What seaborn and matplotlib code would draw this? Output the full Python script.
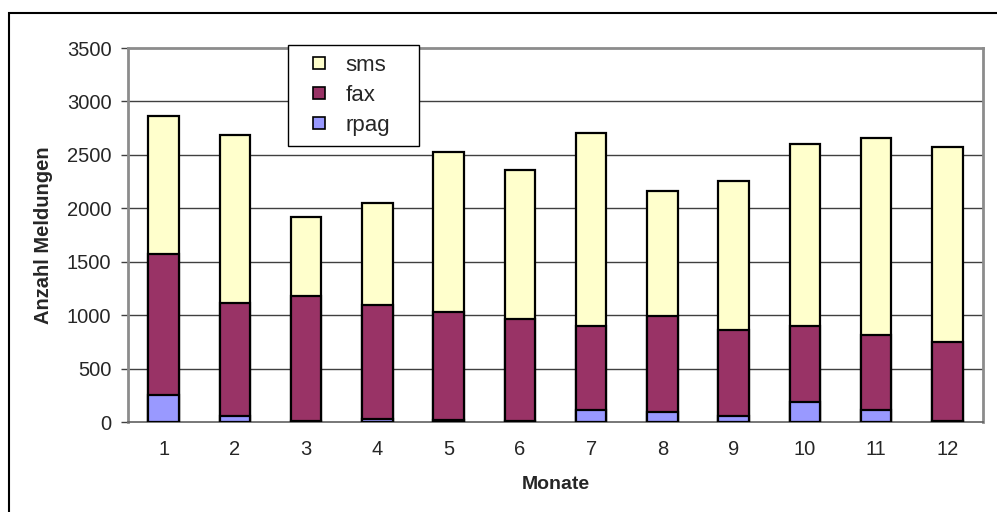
import matplotlib
matplotlib.use("Agg")
import matplotlib.pyplot as plt
from matplotlib.lines import Line2D
from matplotlib.patches import Rectangle
import seaborn as sns
import pandas as pd
import numpy as np

months = ["1", "2", "3", "4", "5", "6", "7", "8", "9", "10", "11", "12"]
rpag = [255, 52, 12, 28, 21, 12, 115, 93, 52, 183, 115, 6]
fax = [1320, 1066, 1171, 1068, 1010, 953, 785, 897, 808, 717, 698, 745]
sms = [1288, 1568, 739, 957, 1500, 1395, 1805, 1174, 1391, 1699, 1848, 1823]

colors = {"sms": "#FFFFCC", "fax": "#993366", "rpag": "#9999FF"}

df = pd.DataFrame({"Monat": months, "rpag": rpag, "fax": fax, "sms": sms})
df["c_rpag"] = df["rpag"]
df["c_fax"] = df["rpag"] + df["fax"]
df["c_sms"] = df["rpag"] + df["fax"] + df["sms"]

sns.set_style("white")
plt.rcParams["font.family"] = ["Liberation Sans", "DejaVu Sans"]

fig = plt.figure(figsize=(9.97, 5.12), dpi=100)
ax = fig.add_axes([128 / 997, 1 - 422 / 512, (983 - 128) / 997, (422 - 48) / 512])

for key in ["c_sms", "c_fax", "c_rpag"]:
    sns.barplot(data=df, x="Monat", y=key, order=months, color=colors[key[2:]],
                width=0.43, edgecolor="black", linewidth=1.6, ax=ax,
                saturation=1, zorder=3)

ax.set_ylim(0, 3500)
ax.set_xlim(-0.5, 11.5)
ax.set_yticks(np.arange(0, 3501, 500))
ax.set_yticklabels([str(v) for v in range(0, 3501, 500)], fontsize=14.5)
ax.set_xticklabels(months, fontsize=14.5)
ax.set_xticks(np.arange(-0.5, 12, 1), minor=True)
ax.tick_params(axis="x", which="major", length=0, pad=13)
ax.tick_params(axis="x", which="minor", length=5, width=1, color="#404040", direction="out")
ax.tick_params(axis="y", which="major", length=5, width=1, color="#404040", pad=7, direction="out", left=True)

for v in range(500, 3001, 500):
    ax.axhline(v, color="#404040", lw=1, zorder=1)

for s in ax.spines.values():
    s.set_color("#8c8c8c")
    s.set_linewidth(2)
ax.spines["bottom"].set_color("#606060")
ax.spines["bottom"].set_linewidth(1.2)

ax.set_xlabel("Monate", fontsize=14, fontweight="bold", labelpad=12)
ax.set_ylabel("Anzahl Meldungen", fontsize=14.5, fontweight="bold", labelpad=10)

handles = [Line2D([], [], marker="s", linestyle="none", markersize=8,
                  markerfacecolor=colors[k], markeredgecolor="black", markeredgewidth=1.2)
           for k in ["sms", "fax", "rpag"]]
leg = fig.legend(handles, ["sms", "fax", "rpag"], loc="upper left",
                 bbox_to_anchor=(288 / 997, 1 - 142 / 512, 131 / 997, 97 / 512),
                 mode="expand", fontsize=16,
                 frameon=True, fancybox=False, edgecolor="black",
                 borderpad=0.45, labelspacing=0.4, handlelength=1.9,
                 handletextpad=0.25, borderaxespad=0)
leg.get_frame().set_linewidth(1)
leg.get_frame().set_facecolor("white")
leg.get_frame().set_alpha(1)

fig.patches.append(Rectangle((9 / 997, -0.05), 1.2, 1 - 13 / 512 + 0.05,
                             transform=fig.transFigure, fill=False,
                             edgecolor="black", linewidth=1.5))

fig.savefig("out.png", dpi=100)
